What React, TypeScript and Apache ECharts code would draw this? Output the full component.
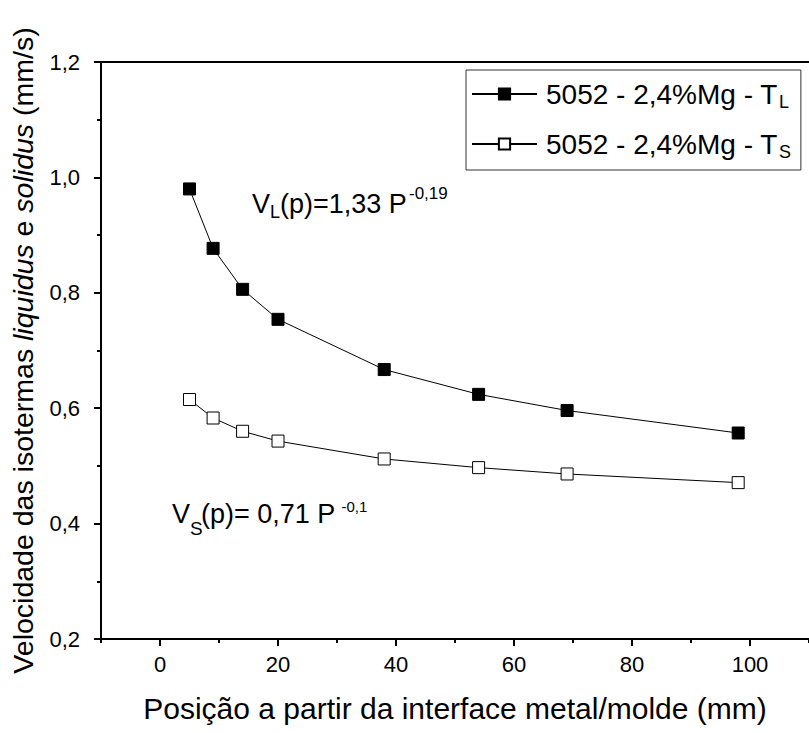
import React, { useEffect, useRef } from 'react';
import * as echarts from 'echarts';

// Data
const positionsMm = [5, 9, 14, 20, 38, 54, 69, 98];
const liquidusVelocity = [0.98, 0.877, 0.806, 0.754, 0.667, 0.624, 0.596, 0.557];
const solidusVelocity = [0.615, 0.583, 0.56, 0.543, 0.512, 0.497, 0.486, 0.471];
const xMajorTicks = [0, 20, 40, 60, 80, 100];
const xMinorTicks = [-10, 10, 30, 50, 70, 90, 110];
const seriesNames = ['5052 - 2,4%Mg - T_L', '5052 - 2,4%Mg - T_S'];

const FONT = '"Liberation Sans", Arial, Helvetica, sans-serif';

function txt(text: string, x: number, y: number, size: number) {
  return {
    type: 'text',
    x,
    y,
    silent: true,
    style: {
      text,
      fill: '#000',
      fontSize: size,
      fontFamily: FONT,
      align: 'left',
      verticalAlign: 'middle',
    },
  };
}

export default function App() {
  const ref = useRef<HTMLDivElement>(null);

  useEffect(() => {
    if (!ref.current) return;
    const chart = echarts.init(ref.current, null, { renderer: 'svg' });
    const mk = (vals: number[]) => positionsMm.map((x, i) => [x, vals[i]]);

    const option: any = {
      animation: false,
      backgroundColor: '#fff',
      textStyle: { fontFamily: FONT },
      grid: { left: 100, right: -5, top: 62, bottom: 94, containLabel: false },
      legend: {
        orient: 'vertical',
        left: 466,
        top: 70,
        padding: [10, 10, 9, 5],
        itemWidth: 65,
        itemHeight: 14,
        itemGap: 19,
        borderColor: '#333',
        borderWidth: 1,
        backgroundColor: '#fff',
        data: seriesNames,
        formatter: (name: string) => {
          const parts = name.split('_');
          return parts[0] + '{sub|' + parts[1] + '}';
        },
        textStyle: {
          fontSize: 28,
          color: '#000',
          fontFamily: FONT,
          padding: [0, 0, 0, 4],
          rich: {
            sub: {
              fontSize: 18,
              color: '#000',
              fontFamily: FONT,
              verticalAlign: 'bottom',
              padding: [16, 0, 0, 1],
            },
          },
        },
      },
      xAxis: [
        {
          type: 'value',
          min: -10,
          max: 110,
          position: 'bottom',
          axisLine: { show: true, onZero: false, lineStyle: { color: '#000', width: 2 } },
          axisTick: { show: true, customValues: xMajorTicks, length: 7, lineStyle: { color: '#000', width: 2 } },
          axisLabel: { customValues: xMajorTicks, fontSize: 22, color: '#000', margin: 14, fontFamily: FONT },
          splitLine: { show: false },
          name: 'Posição a partir da interface metal/molde (mm)',
          nameLocation: 'middle',
          nameGap: 54,
          nameTextStyle: { fontSize: 30, color: '#000', fontFamily: FONT },
        },
        {
          type: 'value',
          min: -10,
          max: 110,
          position: 'bottom',
          axisLine: { show: false },
          axisTick: { show: true, customValues: xMinorTicks, length: 4, lineStyle: { color: '#000', width: 2 } },
          axisLabel: { show: false },
          splitLine: { show: false },
        },
        {
          type: 'value',
          min: -10,
          max: 110,
          position: 'top',
          axisLine: { show: true, onZero: false, lineStyle: { color: '#000', width: 2 } },
          axisTick: { show: false },
          axisLabel: { show: false },
          splitLine: { show: false },
        },
      ],
      yAxis: {
        type: 'value',
        min: 0.2,
        max: 1.2,
        interval: 0.2,
        axisLine: { show: true, onZero: false, lineStyle: { color: '#000', width: 2 } },
        axisTick: { show: true, length: 7, lineStyle: { color: '#000', width: 2 } },
        minorTick: { show: true, splitNumber: 2, length: 4, lineStyle: { color: '#000', width: 2 } },
        axisLabel: {
          fontSize: 22,
          color: '#000',
          margin: 21,
          fontFamily: FONT,
          formatter: (v: number) => v.toFixed(1).replace('.', ','),
        },
        splitLine: { show: false },
        minorSplitLine: { show: false },
        name: 'Velocidade das isotermas {i|liquidus} e {i|solidus} (mm/s)',
        nameLocation: 'middle',
        nameGap: 64,
        nameTextStyle: {
          fontSize: 28.5,
          color: '#000',
          fontFamily: FONT,
          rich: { i: { fontStyle: 'italic', fontSize: 28.5, color: '#000', fontFamily: FONT } },
        },
      },
      series: [
        {
          name: seriesNames[0],
          type: 'line',
          xAxisIndex: 0,
          data: mk(liquidusVelocity),
          symbol: 'rect',
          symbolSize: 12,
          itemStyle: { color: '#000', borderColor: '#000', borderWidth: 1 },
          lineStyle: { color: '#000', width: 1 },
          z: 3,
        },
        {
          name: seriesNames[1],
          type: 'line',
          xAxisIndex: 0,
          data: mk(solidusVelocity),
          symbol: 'rect',
          symbolSize: 12,
          itemStyle: { color: '#fff', borderColor: '#000', borderWidth: 1 },
          lineStyle: { color: '#000', width: 1 },
          z: 3,
        },
      ],
      graphic: [
        txt('V', 252, 203.5, 27),
        txt('L', 270, 212.2, 18),
        txt('(p)=1,33 P', 280, 203.5, 27),
        txt('-0,19', 409, 193, 17),
        txt('V', 172, 514, 27),
        txt('S', 190, 528.4, 19),
        txt('(p)= 0,71 P', 201, 514, 27),
        txt('-0,1', 341.5, 506.5, 15),
      ],
    };
    chart.setOption(option);
    return () => chart.dispose();
  }, []);

  return (
    <div
      ref={ref}
      style={{ position: 'fixed', left: 0, top: 0, width: 809, height: 733, background: '#fff' }}
    />
  );
}
